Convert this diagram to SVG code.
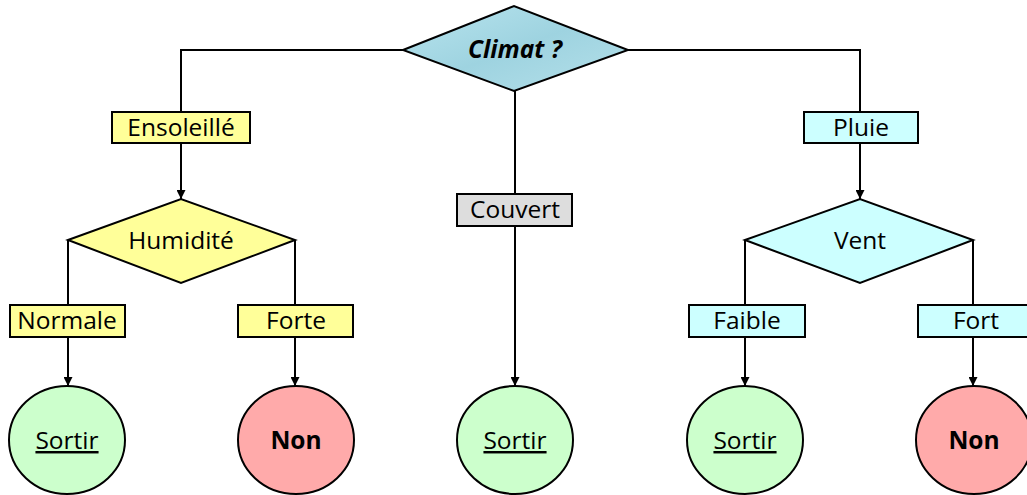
<svg xmlns="http://www.w3.org/2000/svg" width="1027" height="495" viewBox="0 0 1027 495">
<style>
.ln{fill:none;stroke:#000;stroke-width:2}
.sh{stroke:#000;stroke-width:2}
.y{fill:#FFFF99}
.c{fill:#CCFFFF}
.g{fill:#DDDDDD}
.gr{fill:#CCFFCC}
.r{fill:#FFAAAA}
text{font-family:"Open Sans","Noto Sans","DejaVu Sans",sans-serif;font-size:24.5px;fill:#000;text-anchor:middle}
.b{font-weight:bold}
.u{text-decoration:underline}
</style>
<defs>
<marker id="ar" viewBox="0 0 10 10" refX="10" refY="5" markerWidth="9" markerHeight="9" markerUnits="userSpaceOnUse" orient="auto">
<path d="M0,0 L10,5 L0,10 z" fill="#000"/>
</marker>
<linearGradient id="gb" x1="0" y1="0" x2="1" y2="1">
<stop offset="0" stop-color="#B8E4EE"/>
<stop offset="0.5" stop-color="#9ED3E0"/>
<stop offset="1" stop-color="#B5E0EA"/>
</linearGradient>
</defs>
<g id="connectors">
<polyline class="ln" points="403,50 181,50 181,112"/>
<polyline class="ln" points="628,50 860,50 860,112"/>
<line class="ln" x1="181" y1="143" x2="181" y2="199" marker-end="url(#ar)"/>
<line class="ln" x1="860" y1="143" x2="860" y2="199" marker-end="url(#ar)"/>
<line class="ln" x1="515" y1="91" x2="515" y2="193"/>
<line class="ln" x1="515" y1="226" x2="515" y2="386" marker-end="url(#ar)"/>
<line class="ln" x1="68" y1="240" x2="68" y2="305"/>
<line class="ln" x1="68" y1="337" x2="68" y2="386" marker-end="url(#ar)"/>
<line class="ln" x1="295" y1="240" x2="295" y2="305"/>
<line class="ln" x1="295" y1="337" x2="295" y2="386" marker-end="url(#ar)"/>
<line class="ln" x1="745" y1="240" x2="745" y2="305"/>
<line class="ln" x1="745" y1="337" x2="745" y2="386" marker-end="url(#ar)"/>
<line class="ln" x1="973" y1="240" x2="973" y2="305"/>
<line class="ln" x1="973" y1="337" x2="973" y2="386" marker-end="url(#ar)"/>
</g>
<g id="climat">
<polygon class="sh" fill="url(#gb)" points="403,50 514,6 628,50 514,91"/>
<text x="515" y="58" class="b" font-style="italic" font-size="27">Climat ?</text>
</g>
<g id="ensoleille">
<rect class="sh y" x="112" y="112" width="138" height="31"/>
<text x="181" y="136">Ensoleillé</text>
</g>
<g id="pluie">
<rect class="sh c" x="804" y="112" width="114" height="31"/>
<text x="861" y="136">Pluie</text>
</g>
<g id="couvert">
<rect class="sh g" x="457" y="194" width="115" height="32"/>
<text x="515" y="218">Couvert</text>
</g>
<g id="humidite">
<polygon class="sh y" points="68,240 181,199 295,240 181,283"/>
<text x="181" y="249">Humidité</text>
</g>
<g id="vent">
<polygon class="sh c" points="745,240 860,199 973,240 860,283"/>
<text x="860" y="249">Vent</text>
</g>
<g id="normale">
<rect class="sh y" x="10" y="305" width="115" height="32"/>
<text x="67" y="329">Normale</text>
</g>
<g id="forte">
<rect class="sh y" x="238" y="305" width="115" height="32"/>
<text x="296" y="329">Forte</text>
</g>
<g id="faible">
<rect class="sh c" x="689" y="305" width="116" height="32"/>
<text x="747" y="329">Faible</text>
</g>
<g id="fort">
<rect class="sh c" x="918" y="305" width="115" height="32"/>
<text x="976" y="329">Fort</text>
</g>
<g id="sortir1">
<ellipse class="sh gr" cx="67" cy="440" rx="58" ry="54"/>
<text x="67" y="449" class="u">Sortir</text>
</g>
<g id="non1">
<ellipse class="sh r" cx="296" cy="440" rx="58" ry="54"/>
<text x="296" y="449" class="b">Non</text>
</g>
<g id="sortir2">
<ellipse class="sh gr" cx="515" cy="440" rx="58" ry="54"/>
<text x="515" y="449" class="u">Sortir</text>
</g>
<g id="sortir3">
<ellipse class="sh gr" cx="745" cy="440" rx="58" ry="54"/>
<text x="745" y="449" class="u">Sortir</text>
</g>
<g id="non2">
<ellipse class="sh r" cx="974" cy="440" rx="58" ry="54"/>
<text x="974" y="449" class="b">Non</text>
</g>
</svg>
